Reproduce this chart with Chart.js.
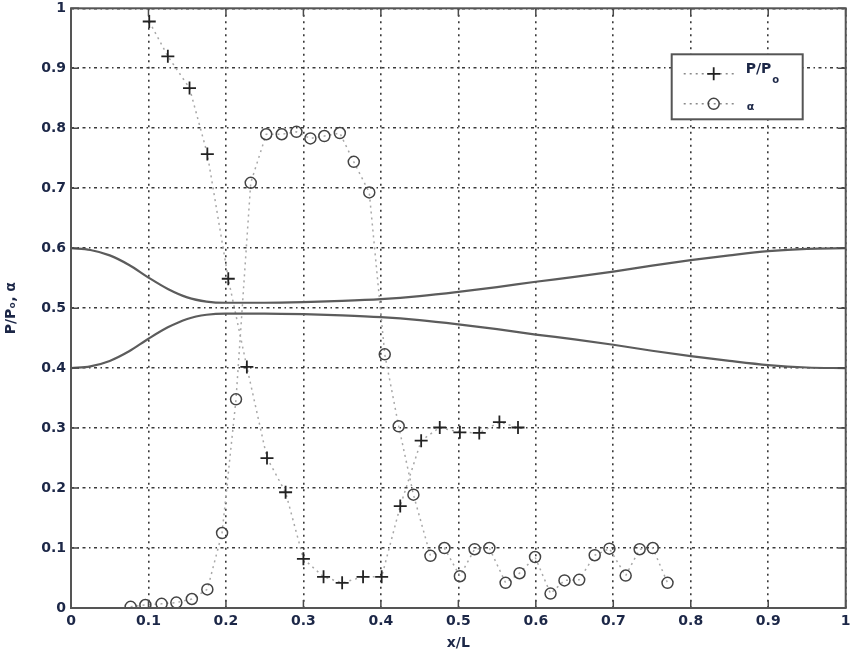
<!DOCTYPE html>
<html>
<head>
<meta charset="utf-8">
<script src="https://cdn.jsdelivr.net/npm/chart.js@4.4.1/dist/chart.umd.min.js"></script>
<style>
  html, body { margin: 0; padding: 0; background: #fff; }
  #wrap { width: 854px; height: 652px; }
</style>
</head>
<body>
<div id="wrap"><canvas id="chart"></canvas></div>
<script>
// pressure ratio along the nozzle
const pressureX = [0.101, 0.125, 0.153, 0.176, 0.203, 0.227, 0.253, 0.277, 0.300, 0.326,
                   0.350, 0.377, 0.401, 0.425, 0.452, 0.476, 0.502, 0.527, 0.553, 0.577];
const pressureY = [0.978, 0.920, 0.867, 0.757, 0.549, 0.402, 0.250, 0.193, 0.082, 0.052,
                   0.042, 0.052, 0.052, 0.170, 0.279, 0.301, 0.293, 0.292, 0.310, 0.301];

// void fraction alpha
const alphaX = [0.077, 0.096, 0.117, 0.136, 0.156, 0.176, 0.195, 0.213, 0.232, 0.252,
                0.272, 0.291, 0.309, 0.327, 0.347, 0.365, 0.385, 0.405, 0.423, 0.442,
                0.464, 0.482, 0.502, 0.521, 0.540, 0.561, 0.579, 0.599, 0.619, 0.637,
                0.656, 0.676, 0.695, 0.716, 0.734, 0.751, 0.770];
const alphaY = [0.002, 0.005, 0.007, 0.009, 0.015, 0.031, 0.125, 0.348, 0.709, 0.790,
                0.790, 0.794, 0.783, 0.787, 0.792, 0.744, 0.693, 0.423, 0.303, 0.189,
                0.087, 0.100, 0.053, 0.098, 0.100, 0.042, 0.058, 0.085, 0.024, 0.046,
                0.047, 0.088, 0.099, 0.054, 0.098, 0.100, 0.042];

// nozzle wall profile
const wallX = [0, 0.025, 0.05, 0.075, 0.1, 0.125, 0.15, 0.175, 0.2, 0.25, 0.3, 0.35, 0.4,
               0.45, 0.5, 0.55, 0.6, 0.65, 0.7, 0.75, 0.8, 0.85, 0.9, 0.95, 1];
const wallUpper = [0.600, 0.597, 0.588, 0.572, 0.551, 0.532, 0.518, 0.511, 0.509, 0.509,
                   0.510, 0.512, 0.515, 0.520, 0.527, 0.535, 0.544, 0.552, 0.561, 0.571,
                   0.580, 0.588, 0.595, 0.599, 0.600];
const wallLower = [0.400, 0.403, 0.412, 0.428, 0.449, 0.468, 0.482, 0.489, 0.491, 0.491,
                   0.490, 0.488, 0.485, 0.480, 0.473, 0.465, 0.456, 0.448, 0.439, 0.429,
                   0.420, 0.412, 0.405, 0.401, 0.400];

const tickValues = [0, 0.1, 0.2, 0.3, 0.4, 0.5, 0.6, 0.7, 0.8, 0.9, 1];

const toPoints = (xs, ys) => xs.map((x, i) => ({ x: x, y: ys[i] }));

const tickColor = '#1c2747';
const tickFont = { family: 'DejaVu Sans', size: 14, weight: 'bold' };

// box, inward ticks and legend in the MATLAB style
const frame = {
    id: 'frame',
    afterDraw(chart) {
        const ctx = chart.ctx;
        const a = chart.chartArea;
        const sx = chart.scales.x, sy = chart.scales.y;
        ctx.save();
        ctx.strokeStyle = '#4a4a4a';
        ctx.lineWidth = 1.5;
        ctx.setLineDash([]);
        ctx.beginPath();
        tickValues.forEach(v => {
            const px = sx.getPixelForValue(v);
            ctx.moveTo(px, a.bottom); ctx.lineTo(px, a.bottom - 8);
            ctx.moveTo(px, a.top); ctx.lineTo(px, a.top + 8);
            const py = sy.getPixelForValue(v);
            ctx.moveTo(a.left, py); ctx.lineTo(a.left + 8, py);
            ctx.moveTo(a.right, py); ctx.lineTo(a.right - 8, py);
        });
        ctx.stroke();
        ctx.lineWidth = 2;
        ctx.strokeStyle = '#555';
        ctx.strokeRect(a.left, a.top, a.right - a.left, a.bottom - a.top);

        // legend
        const bx = a.right - 174, by = a.top + 46, bw = 131, bh = 65;
        ctx.fillStyle = '#fff';
        ctx.fillRect(bx, by, bw, bh);
        ctx.lineWidth = 2;
        ctx.strokeStyle = '#555';
        ctx.strokeRect(bx, by, bw, bh);

        const rows = [by + 19.5, by + 49.5];
        ctx.strokeStyle = '#8a8a8a';
        ctx.lineWidth = 1.6;
        ctx.setLineDash([2, 4]);
        rows.forEach(ry => {
            ctx.beginPath();
            ctx.moveTo(bx + 12, ry); ctx.lineTo(bx + 65, ry);
            ctx.stroke();
        });
        ctx.setLineDash([]);
        const mx = bx + 42;
        ctx.strokeStyle = '#222';
        ctx.lineWidth = 1.8;
        ctx.beginPath();
        ctx.moveTo(mx - 6.5, rows[0]); ctx.lineTo(mx + 6.5, rows[0]);
        ctx.moveTo(mx, rows[0] - 6.5); ctx.lineTo(mx, rows[0] + 6.5);
        ctx.stroke();
        ctx.strokeStyle = '#444';
        ctx.lineWidth = 1.5;
        ctx.beginPath();
        ctx.arc(mx, rows[1], 5.5, 0, Math.PI * 2);
        ctx.stroke();

        ctx.fillStyle = tickColor;
        ctx.textBaseline = 'middle';
        ctx.textAlign = 'left';
        ctx.font = 'bold 14px "DejaVu Sans"';
        ctx.fillText('P/P', bx + 74, rows[0] - 4);
        const w = ctx.measureText('P/P').width;
        ctx.font = 'bold 10px "DejaVu Sans"';
        ctx.fillText('o', bx + 75 + w, rows[0] + 7);
        ctx.font = 'bold 11px "DejaVu Sans"';
        ctx.fillText('α', bx + 75, rows[1] + 3);
        ctx.restore();
    }
};

new Chart(document.getElementById('chart'), {
    type: 'scatter',
    data: {
        datasets: [
            {
                label: 'wall upper',
                data: toPoints(wallX, wallUpper),
                showLine: true,
                borderColor: '#5c5c5c',
                borderWidth: 2.2,
                pointRadius: 0,
                cubicInterpolationMode: 'monotone'
            },
            {
                label: 'wall lower',
                data: toPoints(wallX, wallLower),
                showLine: true,
                borderColor: '#5c5c5c',
                borderWidth: 2.2,
                pointRadius: 0,
                cubicInterpolationMode: 'monotone'
            },
            {
                label: 'P/Po',
                data: toPoints(pressureX, pressureY),
                showLine: true,
                borderColor: '#a8a8a8',
                borderWidth: 1.5,
                borderDash: [2, 4],
                pointStyle: 'cross',
                pointRadius: 6.5,
                pointBorderColor: '#222',
                pointBorderWidth: 1.8
            },
            {
                label: 'α',
                data: toPoints(alphaX, alphaY),
                showLine: true,
                borderColor: '#a8a8a8',
                borderWidth: 1.5,
                borderDash: [2, 4],
                pointStyle: 'circle',
                pointRadius: 5.5,
                pointBackgroundColor: 'rgba(0,0,0,0)',
                pointBorderColor: '#444',
                pointBorderWidth: 1.5
            }
        ]
    },
    options: {
        responsive: true,
        maintainAspectRatio: false,
        animation: false,
        layout: { padding: { top: 6, right: 5, left: 0, bottom: 0 } },
        plugins: {
            legend: { display: false },
            tooltip: { enabled: false }
        },
        scales: {
            x: {
                type: 'linear',
                min: 0,
                max: 1,
                afterBuildTicks: s => { s.ticks = tickValues.map(v => ({ value: v })); },
                afterFit: s => { s.height = 44; s.paddingLeft = 0; s.paddingRight = 0; },
                grid: { color: '#3a3a3a', lineWidth: 1.6, drawTicks: false },
                border: { display: false, dash: [2, 4.5] },
                ticks: {
                    color: tickColor,
                    font: tickFont,
                    padding: 5,
                    maxRotation: 0,
                    callback: v => String(v)
                },
                title: {
                    display: true,
                    text: 'x/L',
                    color: tickColor,
                    font: tickFont,
                    padding: { top: 0, bottom: 0 }
                }
            },
            y: {
                type: 'linear',
                min: 0,
                max: 1,
                afterBuildTicks: s => { s.ticks = tickValues.map(v => ({ value: v })); },
                afterFit: s => { s.width = 71; s.paddingTop = 0; s.paddingBottom = 0; },
                grid: { color: '#3a3a3a', lineWidth: 1.6, drawTicks: false },
                border: { display: false, dash: [3, 3.5, 1.5, 3.5] },
                ticks: {
                    color: tickColor,
                    font: tickFont,
                    padding: 5,
                    callback: v => String(v)
                },
                title: {
                    display: true,
                    text: 'P/Pₒ, α',
                    color: tickColor,
                    font: { family: 'DejaVu Sans', size: 14, weight: 'bold' },
                    padding: { top: 3, bottom: 0 }
                }
            }
        }
    },
    plugins: [frame]
});
</script>
</body>
</html>
